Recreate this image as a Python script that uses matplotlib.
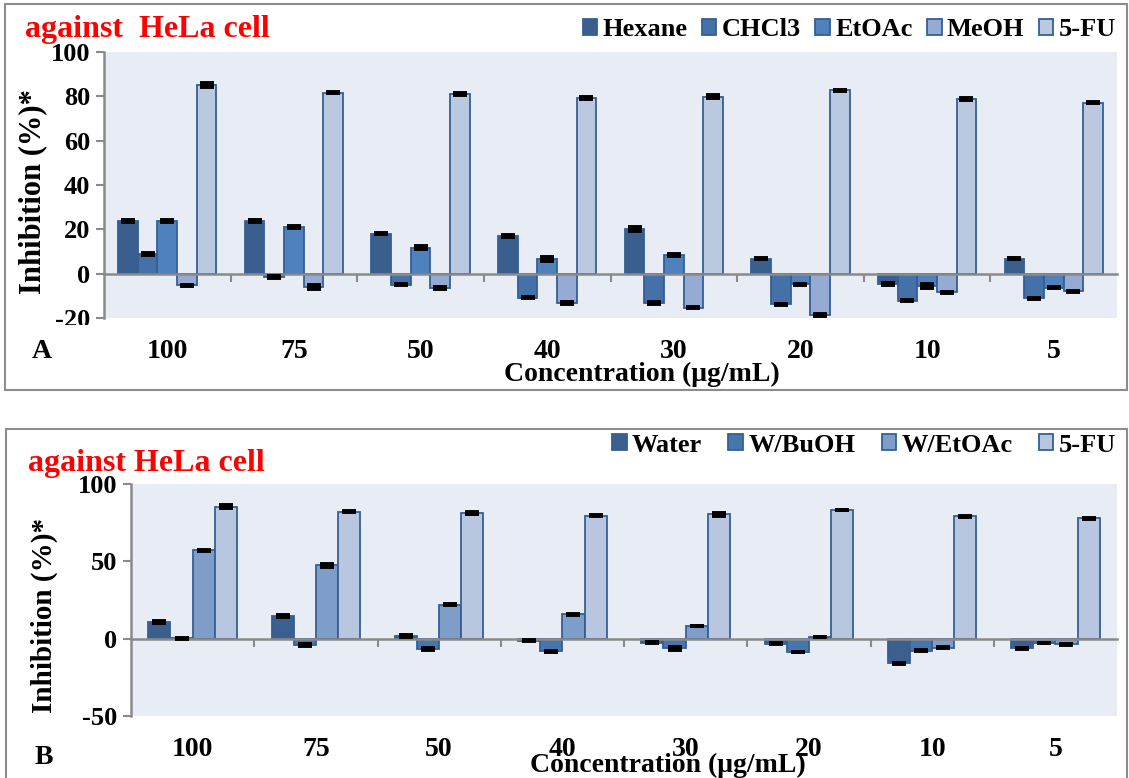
import matplotlib
matplotlib.use("Agg")
import matplotlib.pyplot as plt
import numpy as np
from matplotlib.patches import Rectangle
from matplotlib.transforms import blended_transform_factory, Bbox, TransformedBbox

plt.rcParams['font.family'] = ['Liberation Serif', 'DejaVu Serif']
plt.rcParams['font.weight'] = 'bold'

concentrations = ['100', '75', '50', '40', '30', '20', '10', '5']

# Panel A
series_a = ['Hexane', 'CHCl3', 'EtOAc', 'MeOH', '5-FU']
hexane = [23.8, 23.8, 18.1, 17.0, 20.2, 6.8, -4.8, 6.8]
chcl3 = [9.0, -1.5, -5.0, -10.9, -13.3, -13.9, -12.2, -11.2]
etoac = [23.8, 21.1, 11.8, 6.6, 8.4, -4.8, -5.7, -6.3]
meoh = [-5.3, -6.0, -6.4, -13.3, -15.4, -18.7, -8.4, -8.0]
fu_a = [85.1, 81.7, 81.0, 79.3, 79.9, 82.7, 78.7, 77.2]
err_hexane = [0.3, 0.3, 0.3, 0.4, 0.9, 0.3, 0.4, 0.3]
err_chcl3 = [0.4, 0.3, 0.3, 0.3, 0.3, 0.3, 0.3, 0.3]
err_etoac = [0.5, 0.3, 0.7, 0.7, 0.3, 0.3, 0.9, 0.3]
err_meoh = [0.3, 0.9, 0.3, 0.5, 0.3, 0.3, 0.3, 0.3]
err_fu_a = [0.8, 0.2, 0.4, 0.5, 0.8, 0.2, 0.5, 0.4]

# Panel B
series_b = ['Water', 'W/BuOH', 'W/EtOAc', '5-FU']
water = [10.5, 14.8, 1.5, -1.4, -2.6, -3.4, -15.9, -6.2]
w_buoh = [0.3, -4.1, -6.7, -8.2, -6.2, -8.6, -7.7, -2.8]
w_etoac = [57.2, 47.5, 21.9, 15.9, 8.2, 1.1, -6.0, -3.7]
fu_b = [85.4, 82.2, 81.3, 79.6, 80.4, 83.2, 79.1, 77.8]
err_water = [0.6, 0.5, 0.7, 0.3, 0.3, 0.3, 0.4, 0.3]
err_buoh = [0.2, 0.4, 0.9, 0.3, 0.9, 0.3, 0.3, 0.3]
err_wetoac = [0.4, 0.9, 0.4, 0.3, 0.3, 0.3, 0.3, 0.3]
err_fu_b = [0.7, 0.3, 0.4, 0.5, 0.8, 0.2, 0.5, 0.4]

colors_a = ['#3a5f8e', '#4371a8', '#4f81bd', '#95abd4', '#bac8e0']
colors_b = ['#3b5f8f', '#4775ad', '#7f9dc9', '#b8c6df']
edge = '#355f93'
bg = '#e8edf5'
grey = '#8a8a8a'

W, H = 1129, 778
fig = plt.figure(figsize=(W / 100, H / 100), dpi=100)

def fx(px):
    return px / W

def fy(py):
    return 1 - py / H

# panel frames
fig.patches.append(Rectangle((fx(5), fy(390)), fx(1127) - fx(5), fy(4) - fy(390),
                             transform=fig.transFigure, fill=False, edgecolor='#8c8c8c', lw=1.5))
fig.patches.append(Rectangle((fx(6), fy(790)), fx(1127) - fx(6), fy(429) - fy(790),
                             transform=fig.transFigure, fill=False, edgecolor='#8c8c8c', lw=1.5))

tick_fs = 19
lab_fs = 20

def draw_panel(ax, vals, errs, names, colors, width, ylim, yticks, cat_y, xlab_x, xlab_y, leg_y, colsp):
    n = len(vals)
    x = np.arange(len(concentrations))
    ax.set_facecolor(bg)
    for j in range(n):
        off = (j - (n - 1) / 2) * width
        ax.bar(x + off, vals[j], width, color=colors[j], edgecolor=edge, linewidth=1.3,
               label=names[j], zorder=2)
        ax.errorbar(x + off, vals[j], yerr=errs[j], fmt='none', ecolor='black',
                    elinewidth=1.5, capsize=5, capthick=2.8, zorder=3)
    ax.set_xlim(-0.5, len(concentrations) - 0.5)
    ax.set_ylim(*ylim)
    ax.set_yticks(yticks)
    ax.set_yticklabels([str(t) for t in yticks], fontsize=tick_fs, fontweight='bold')
    ax.spines['top'].set_visible(False)
    ax.spines['right'].set_visible(False)
    ax.spines['left'].set_color(grey)
    ax.spines['left'].set_linewidth(1.8)
    ax.spines['bottom'].set_position(('data', 0))
    ax.spines['bottom'].set_color(grey)
    ax.spines['bottom'].set_linewidth(1.8)
    ax.spines['bottom'].set_zorder(2.5)
    ax.set_xticks(np.arange(0.5, len(concentrations) - 0.5, 1.0))
    ax.set_xticklabels([])
    ax.tick_params(axis='x', direction='out', length=6, width=1.5, color=grey)
    ax.tick_params(axis='y', direction='out', length=6, width=1.5, color=grey, pad=4)
    tr = blended_transform_factory(ax.transData, fig.transFigure)
    for i, c in enumerate(concentrations):
        ax.text(i, fy(cat_y), c, transform=tr, ha='center', va='center',
                fontsize=lab_fs, fontweight='bold')
    fig.text(fx(xlab_x), fy(xlab_y), 'Concentration (μg/mL)', ha='center', va='center',
             fontsize=lab_fs, fontweight='bold')
    leg = ax.legend(loc='center right', bbox_to_anchor=(fx(1116), fy(leg_y)),
                    bbox_transform=fig.transFigure, ncol=n, frameon=False,
                    prop={'size': 19, 'weight': 'bold'}, handlelength=0.55,
                    handleheight=0.55, handletextpad=0.2, columnspacing=colsp,
                    borderaxespad=0, borderpad=0)
    return leg

# Panel A axes
axA = fig.add_axes([fx(104), fy(318), fx(1117) - fx(104), fy(52) - fy(318)])
draw_panel(axA, [hexane, chcl3, etoac, meoh, fu_a],
           [err_hexane, err_chcl3, err_etoac, err_meoh, err_fu_a],
           series_a, colors_a, 0.155, (-20, 100), [-20, 0, 20, 40, 60, 80, 100],
           352, 642, 374, 30, 0.55)
axA.set_ylabel('Inhibition (%)*', fontsize=22, fontweight='bold')
axA.yaxis.set_label_coords(fx(47), fy(192), transform=fig.transFigure)

# clip the -20 label like the original
fig.canvas.draw()
lbl = axA.yaxis.get_major_ticks()[0].label1
lbl.set_clip_box(TransformedBbox(Bbox([[-1, -0.025], [1, 1.2]]), axA.transAxes))
lbl.set_clip_on(True)

# Panel B axes
axB = fig.add_axes([fx(131), fy(716), fx(1117) - fx(131), fy(484) - fy(716)])
draw_panel(axB, [water, w_buoh, w_etoac, fu_b],
           [err_water, err_buoh, err_wetoac, err_fu_b],
           series_b, colors_b, 0.18, (-50, 100), [-50, 0, 50, 100],
           750, 668, 765, 445, 1.0)
axB.set_ylabel('Inhibition (%)*', fontsize=21, fontweight='bold')
axB.yaxis.set_label_coords(fx(58), fy(615), transform=fig.transFigure)

fig.text(fx(25), fy(30), 'against  HeLa cell', color='red', fontsize=23, fontweight='bold',
         ha='left', va='center')
fig.text(fx(28), fy(463), 'against HeLa cell', color='red', fontsize=23, fontweight='bold',
         ha='left', va='center')
fig.text(fx(42), fy(352), 'A', fontsize=lab_fs, fontweight='bold', ha='center', va='center')
fig.text(fx(44), fy(758), 'B', fontsize=lab_fs, fontweight='bold', ha='center', va='center')

fig.savefig('out.png', dpi=100)
